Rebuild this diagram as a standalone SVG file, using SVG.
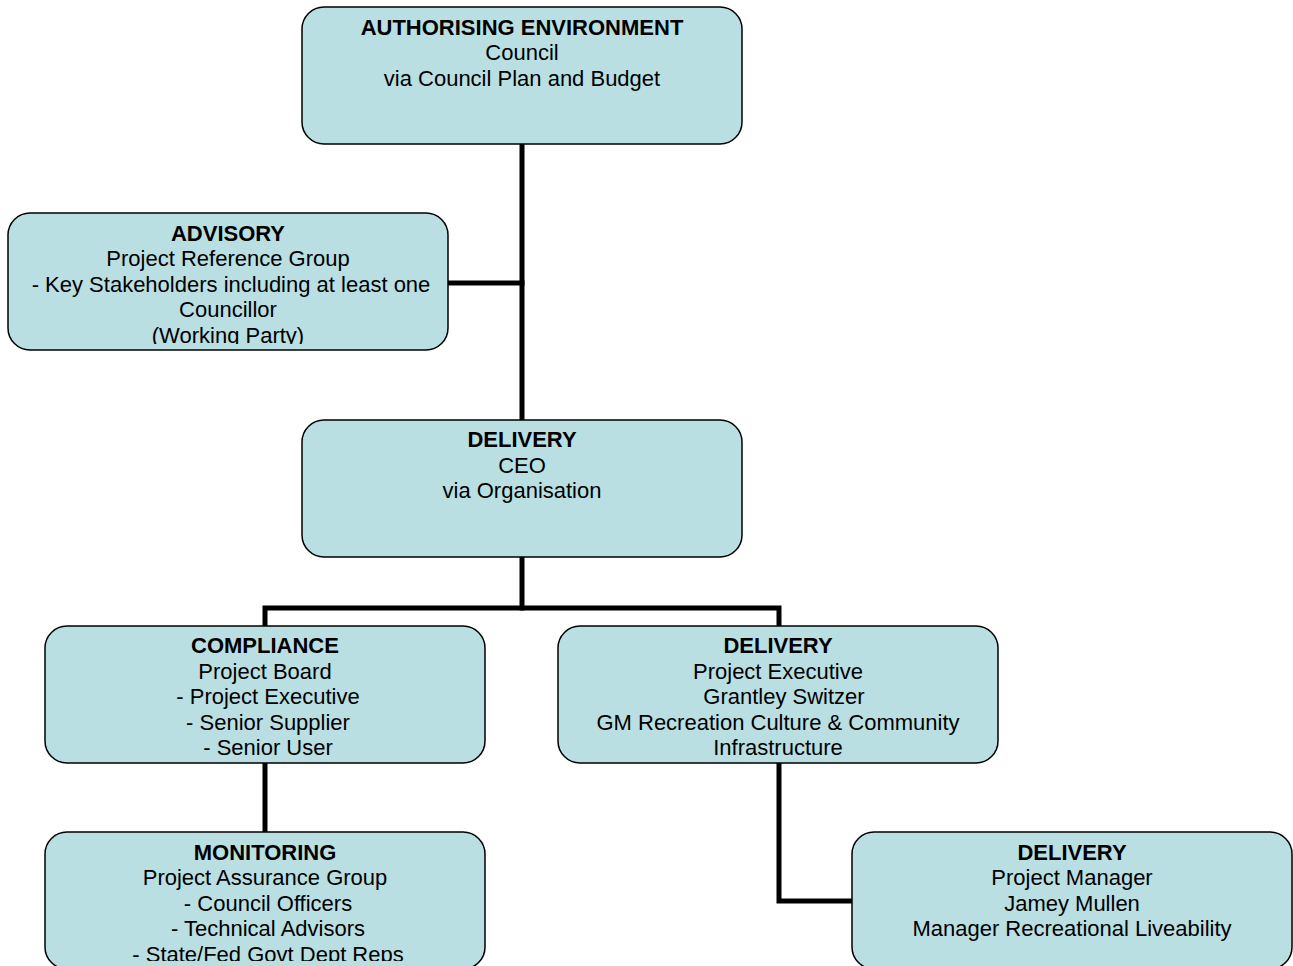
<svg xmlns="http://www.w3.org/2000/svg" width="1293" height="966" viewBox="0 0 1293 966">
  <style>
    .box { fill: #B9DFE3; stroke: #000; stroke-width: 1.5; }
    .t { font-family: "Liberation Sans", Arial, sans-serif; font-size: 22px; fill: #000; text-anchor: middle; }
    .h { font-weight: bold; }
    .conn { fill: none; stroke: #000; stroke-width: 5; stroke-linejoin: miter; stroke-linecap: square; }
  </style>
  <defs>
    <clipPath id="clipAdvisory"><rect x="8" y="213" width="440" height="131"/></clipPath>
    <clipPath id="clipMonitoring"><rect x="45" y="832" width="440" height="129"/></clipPath>
  </defs>

  <g id="connectors">
    <path class="conn" d="M522 144 V420"/>
    <path class="conn" d="M448 283 H522"/>
    <path class="conn" d="M522 557 V608"/>
    <path class="conn" d="M265 626 V608 H779 V626"/>
    <path class="conn" d="M265 763 V832"/>
    <path class="conn" d="M779 763 V901 H852"/>
  </g>

  <g id="authorising">
    <rect class="box" x="302" y="7" width="440" height="137" rx="22"/>
    <text class="t h" x="522" y="35">AUTHORISING ENVIRONMENT</text>
    <text class="t" x="522" y="60">Council</text>
    <text class="t" x="522" y="86">via Council Plan and Budget</text>
  </g>

  <g id="advisory">
    <rect class="box" x="8" y="213" width="440" height="137" rx="22"/>
    <g clip-path="url(#clipAdvisory)">
      <text class="t h" x="228" y="241">ADVISORY</text>
      <text class="t" x="228" y="266">Project Reference Group</text>
      <text class="t" x="231" y="292">- Key Stakeholders including at least one</text>
      <text class="t" x="228" y="317">Councillor</text>
      <text class="t" x="228" y="343">(Working Party)</text>
    </g>
  </g>

  <g id="delivery-ceo">
    <rect class="box" x="302" y="420" width="440" height="137" rx="22"/>
    <text class="t h" x="522" y="447">DELIVERY</text>
    <text class="t" x="522" y="473">CEO</text>
    <text class="t" x="522" y="498">via Organisation</text>
  </g>

  <g id="compliance">
    <rect class="box" x="45" y="626" width="440" height="137" rx="22"/>
    <text class="t h" x="265" y="653">COMPLIANCE</text>
    <text class="t" x="265" y="679">Project Board</text>
    <text class="t" x="268" y="704">- Project Executive</text>
    <text class="t" x="268" y="730">- Senior Supplier</text>
    <text class="t" x="268" y="755">- Senior User</text>
  </g>

  <g id="delivery-executive">
    <rect class="box" x="558" y="626" width="440" height="137" rx="22"/>
    <text class="t h" x="778" y="653">DELIVERY</text>
    <text class="t" x="778" y="679">Project Executive</text>
    <text class="t" x="784" y="704">Grantley Switzer</text>
    <text class="t" x="778" y="730">GM Recreation Culture &amp; Community</text>
    <text class="t" x="778" y="755">Infrastructure</text>
  </g>

  <g id="monitoring">
    <rect class="box" x="45" y="832" width="440" height="137" rx="22"/>
    <g clip-path="url(#clipMonitoring)">
      <text class="t h" x="265" y="860">MONITORING</text>
      <text class="t" x="265" y="885">Project Assurance Group</text>
      <text class="t" x="268" y="911">- Council Officers</text>
      <text class="t" x="268" y="936">- Technical Advisors</text>
      <text class="t" x="268" y="962">- State/Fed Govt Dept Reps</text>
    </g>
  </g>

  <g id="delivery-manager">
    <rect class="box" x="852" y="832" width="440" height="137" rx="22"/>
    <text class="t h" x="1072" y="860">DELIVERY</text>
    <text class="t" x="1072" y="885">Project Manager</text>
    <text class="t" x="1072" y="911">Jamey Mullen</text>
    <text class="t" x="1072" y="936">Manager Recreational Liveability</text>
  </g>
</svg>
